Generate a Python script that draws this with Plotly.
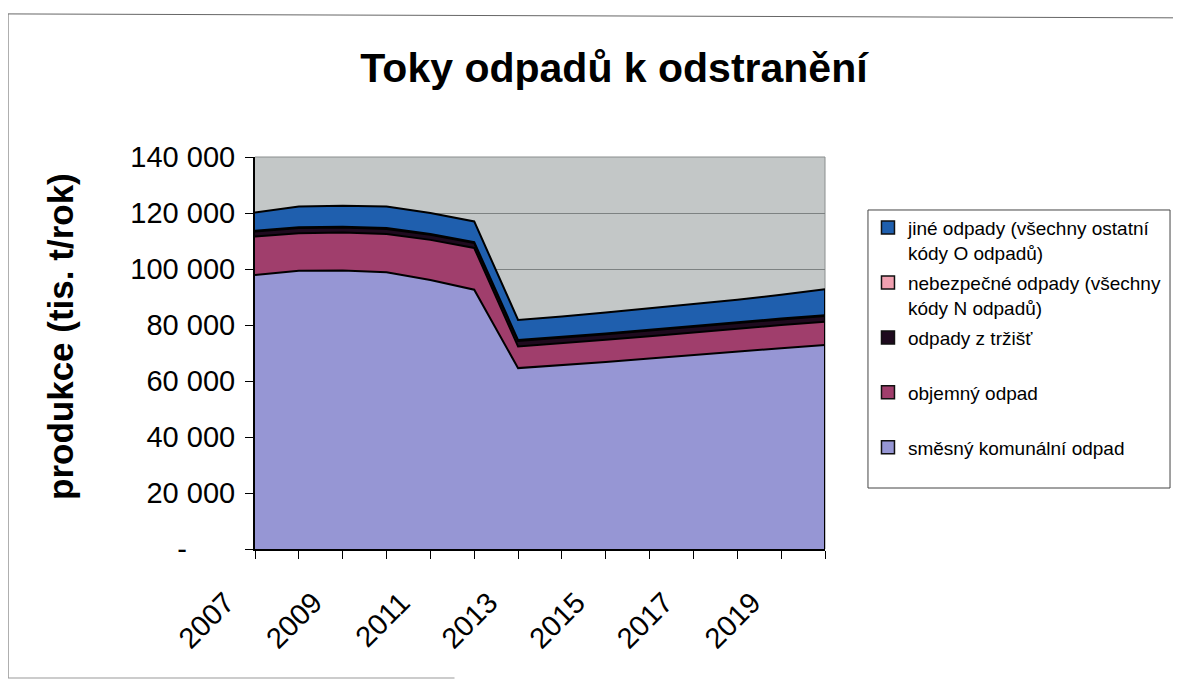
import plotly.graph_objects as go

# ---------------- data ----------------
years = [2007, 2008, 2009, 2010, 2011, 2012, 2013, 2014, 2015, 2016, 2017, 2018, 2019, 2020]
year_labels = ["2007", "", "2009", "", "2011", "", "2013", "", "2015", "", "2017", "", "2019", ""]

smesny = [97900, 99400, 99500, 98800, 96100, 92600, 64600, 65600, 66800, 68000, 69300, 70500, 71700, 72900]
objemny = [13700, 13400, 13500, 13700, 14300, 14900, 7700, 7800, 7900, 8000, 8100, 8200, 8300, 8300]
trziste = [1800, 1800, 1800, 1800, 1800, 1800, 2000, 2000, 2000, 2000, 2000, 2000, 2000, 2000]
nebezpecne = [300, 300, 300, 300, 300, 300, 300, 300, 300, 300, 300, 300, 300, 300]
jine = [6500, 7400, 7500, 7700, 7500, 7400, 7200, 7300, 7500, 7700, 7700, 8000, 8500, 9300]

y_tick_vals = [0, 20000, 40000, 60000, 80000, 100000, 120000, 140000]
y_tick_text = ["-\u00a0\u00a0\u00a0\u00a0\u00a0\u00a0", "20 000", "40 000", "60 000", "80 000",
               "100 000", "120 000", "140 000"]

series_names = ["směsný komunální odpad", "objemný odpad", "odpady z tržišť",
                "nebezpečné odpady (všechny kódy N odpadů)",
                "jiné odpady (všechny ostatní kódy O odpadů)"]
legend_labels = ["směsný komunální odpad<br>\u00a0", "objemný odpad<br>\u00a0",
                 "odpady z tržišť<br>\u00a0",
                 "nebezpečné odpady (všechny<br>kódy N odpadů)",
                 "jiné odpady (všechny ostatní<br>kódy O odpadů)"]
series_colors = ["#9696d4", "#a03e6c", "#1e0a1e", "#f0a0b0", "#1f5fae"]
series_values = [smesny, objemny, trziste, nebezpecne, jine]

FONT = "Liberation Sans, Arial, sans-serif"

fig = go.Figure()

# stacked areas
for name, vals, col in zip(series_names, series_values, series_colors):
    fig.add_trace(go.Scatter(
        x=years, y=vals, name=name, mode="lines", stackgroup="one",
        line=dict(color="black", width=2), fillcolor=col, showlegend=False,
        hoverinfo="x+y+name"))

# right edge outline of the stacked area (derived from data)
total_last = sum(v[-1] for v in series_values)
fig.add_trace(go.Scatter(x=[years[-1], years[-1]], y=[0, total_last], mode="lines",
                         line=dict(color="black", width=2), showlegend=False,
                         hoverinfo="skip"))

# legend entries (top to bottom)
for k, i in enumerate(range(len(series_names) - 1, -1, -1)):
    fig.add_trace(go.Scatter(
        x=[None], y=[None], mode="markers", name=legend_labels[i],
        legendgroup="g%d" % k,
        marker=dict(symbol="square", size=13, color=series_colors[i],
                    line=dict(color="#111111", width=1.5))))

fig.update_layout(
    width=1181, height=682,
    margin=dict(l=247, r=364, t=149, b=141),
    paper_bgcolor="white",
    plot_bgcolor="#c3c7c7",
    font=dict(family=FONT, color="black"),
    title=dict(text="<b>Toky odpadů k odstranění</b>", x=0.6298, xref="paper",
               xanchor="center", y=1 - 60 / 682, yanchor="middle",
               font=dict(size=41, family=FONT, color="black")),
    showlegend=True,
    legend=dict(x=1.0754, y=0.868, xanchor="left", yanchor="top",
                bgcolor="rgba(0,0,0,0)", borderwidth=0,
                font=dict(size=19, family=FONT, color="black"),
                traceorder="grouped", valign="top", tracegroupgap=2.5,
                itemclick=False),
)

fig.update_xaxes(
    range=[years[0], years[-1]], tickmode="array", tickvals=years, ticktext=year_labels,
    tickangle=-45, ticks="outside", ticklen=8, tickcolor="black", tickwidth=1,
    showline=True, linecolor="black", linewidth=2, showgrid=False, zeroline=False,
    ticklabelstandoff=15, ticklabelshift=-29,
    tickfont=dict(size=29, family=FONT, color="black"))

fig.update_yaxes(
    range=[0, 140000], tickmode="array", tickvals=y_tick_vals, ticktext=y_tick_text,
    ticks="outside", ticklen=8, tickcolor="black", tickwidth=1,
    showline=True, linecolor="black", linewidth=2,
    showgrid=True, gridcolor="#7d8282", gridwidth=1, zeroline=False,
    ticklabelstandoff=4,
    tickfont=dict(size=29, family=FONT, color="black"))

# y axis title
fig.add_annotation(text="<b>produkce (tis. t/rok)</b>", xref="paper", yref="paper",
                   x=-0.3404, y=0.5434, textangle=-90, showarrow=False,
                   xanchor="center", yanchor="middle",
                   font=dict(size=35, family=FONT, color="black"))

# plot area border (top/right, gray)
fig.add_shape(type="line", xref="paper", yref="paper", x0=0, x1=1, y0=1, y1=1,
              line=dict(color="#8a8e8e", width=1), layer="below")
fig.add_shape(type="line", xref="paper", yref="paper", x0=1, x1=1, y0=0, y1=1,
              line=dict(color="#8a8e8e", width=1), layer="below")

# legend box
fig.add_shape(type="rect", xref="paper", yref="paper", x0=1.0754, x1=1.6053,
              y0=0.1556, y1=0.8648, line=dict(color="#444444", width=1),
              fillcolor="rgba(0,0,0,0)")

# outer chart border
fig.add_shape(type="line", xref="paper", yref="paper", x0=-0.4333, x1=-0.4333,
              y0=-0.3291, y1=1.365, line=dict(color="#666666", width=1))
fig.add_shape(type="line", xref="paper", yref="paper", x0=-0.4333, x1=1.614,
              y0=1.365, y1=1.355, line=dict(color="#666666", width=1))
fig.add_shape(type="line", xref="paper", yref="paper", x0=-0.4333, x1=0.35,
              y0=-0.3291, y1=-0.3291, line=dict(color="#999999", width=1))

fig.write_html("out.html")
